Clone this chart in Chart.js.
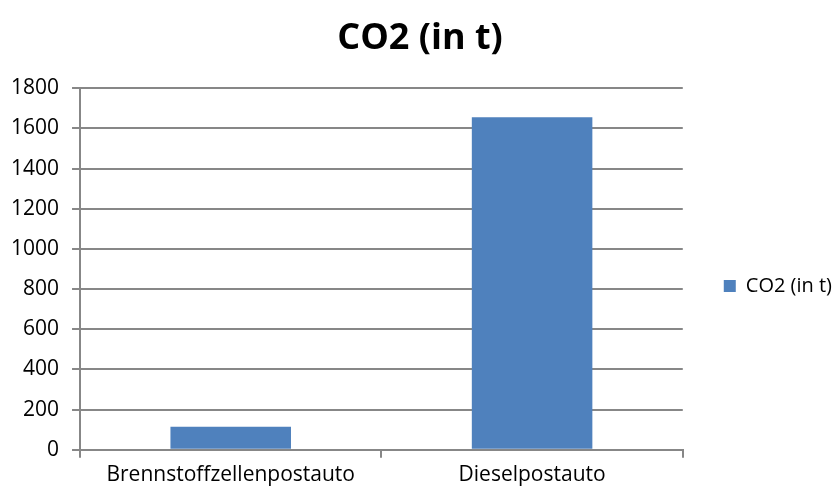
<!DOCTYPE html>
<html>
<head>
<meta charset="utf-8">
<script src="https://cdn.jsdelivr.net/npm/chart.js@4"></script>
<style>
  html, body { margin: 0; padding: 0; background: #ffffff; }
  #wrap { width: 836px; height: 491px; }
</style>
</head>
<body>
<div id="wrap"><canvas id="c" width="836" height="491"></canvas></div>
<script>
const categories = ['Brennstoffzellenpostauto', 'Dieselpostauto'];
const co2Values = [115, 1655];
const seriesName = 'CO2 (in t)';
const yTicks = [0, 200, 400, 600, 800, 1000, 1200, 1400, 1600, 1800];

const FONT = '"Open Sans", Lato, sans-serif';
const GRID = '#878787';
const LEGEND_DROP = 31; // lowers the side legend a little below the vertical middle

// Moves the right-hand legend down after Chart.js has placed it.
const legendDrop = {
  id: 'legendDrop',
  afterLayout(chart) {
    if (chart.legend) {
      chart.legend.top += LEGEND_DROP;
      chart.legend.bottom += LEGEND_DROP;
    }
  }
};

new Chart(document.getElementById('c'), {
  type: 'bar',
  data: {
    labels: categories,
    datasets: [{
      label: seriesName,
      data: co2Values,
      backgroundColor: '#4F81BD',
      borderWidth: 0,
      barPercentage: 0.4,
      categoryPercentage: 1.0
    }]
  },
  plugins: [legendDrop],
  options: {
    responsive: false,
    animation: false,
    layout: { padding: { left: -2, right: -6, top: 17, bottom: -2 } },
    plugins: {
      title: {
        display: true,
        text: seriesName,
        color: '#000000',
        font: { family: FONT, size: 36, weight: 'bold' },
        padding: { top: 0, bottom: 28 }
      },
      legend: {
        position: 'right',
        labels: {
          color: '#000000',
          font: { family: FONT, size: 20 },
          boxWidth: 12,
          boxHeight: 12,
          padding: 41
        }
      },
      tooltip: { enabled: false }
    },
    scales: {
      x: {
        offset: true,
        grid: {
          offset: true,
          drawOnChartArea: false,
          color: GRID,
          tickLength: 8,
          lineWidth: 2
        },
        border: { color: GRID, width: 2 },
        ticks: {
          color: '#000000',
          font: { family: FONT, size: 21 },
          padding: 5
        }
      },
      y: {
        min: 0,
        max: 1800,
        afterBuildTicks: (axis) => { axis.ticks = yTicks.map(v => ({ value: v })); },
        grid: {
          color: GRID,
          lineWidth: 2,
          tickLength: 8
        },
        border: { color: GRID, width: 2 },
        ticks: {
          color: '#000000',
          font: { family: FONT, size: 21 },
          padding: 13,
          callback: (v) => String(v)
        }
      }
    }
  }
});
</script>
</body>
</html>
